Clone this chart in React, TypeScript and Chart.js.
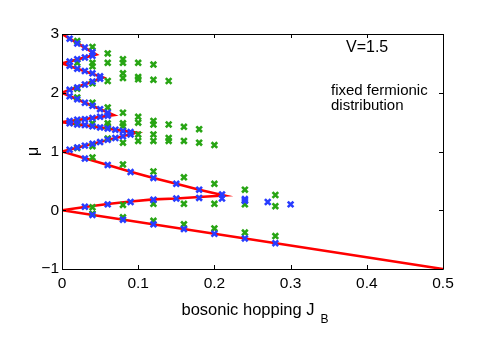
import React, { useEffect, useRef } from "react";
import { Chart, registerables } from "chart.js";

Chart.register(...registerables);

// Phase boundary (red) polyline vertices: J_B and mu
const redX = [0, 0.045, 0, 0.054, 0, 0.068, 0, 0.098, 0, 0.03, 0.06, 0.09, 0.12, 0.15, 0.18, 0.213, 0.18, 0.15, 0.12, 0.09, 0.06, 0.03, 0, 0.5];
const redY = [3, 2.65, 2.5, 2.26, 2, 1.62, 1.5, 1.32, 1, 0.885, 0.77, 0.655, 0.55, 0.45, 0.35, 0.25, 0.225, 0.2, 0.185, 0.15, 0.105, 0.055, 0, -1];

// Blue markers
const blueX = [
  0.01, 0.02, 0.03, 0.04,
  0.01, 0.02, 0.03, 0.04,
  0.01, 0.02, 0.03, 0.04, 0.05,
  0.01, 0.02, 0.03, 0.04, 0.05,
  0.01, 0.02, 0.03, 0.04, 0.05, 0.06,
  0.01, 0.02, 0.03, 0.04, 0.05, 0.06,
  0.01, 0.02, 0.03, 0.04, 0.05, 0.06, 0.07, 0.08, 0.09,
  0.01, 0.02, 0.03, 0.04, 0.05, 0.06, 0.07, 0.08, 0.09,
  0.03, 0.06, 0.09, 0.12, 0.15, 0.18, 0.21,
  0.03, 0.06, 0.09, 0.12, 0.15, 0.18, 0.21,
  0.24, 0.24, 0.27, 0.3,
  0.04, 0.08, 0.12, 0.16, 0.2, 0.24, 0.28,
];
const blueY = [
  2.92, 2.84, 2.77, 2.69,
  2.53, 2.57, 2.6, 2.63,
  2.46, 2.41, 2.37, 2.33, 2.28,
  2.05, 2.09, 2.14, 2.19, 2.24,
  1.94, 1.89, 1.83, 1.78, 1.72, 1.66,
  1.52, 1.54, 1.55, 1.57, 1.59, 1.61,
  1.48, 1.46, 1.45, 1.43, 1.41, 1.39, 1.37, 1.35, 1.33,
  1.03, 1.07, 1.1, 1.13, 1.16, 1.2, 1.23, 1.26, 1.29,
  0.88, 0.77, 0.65, 0.55, 0.45, 0.35, 0.27,
  0.06, 0.1, 0.14, 0.18, 0.2, 0.21, 0.2,
  0.19, 0.16, 0.14, 0.1,
  -0.08, -0.16, -0.24, -0.32, -0.4, -0.48, -0.56,
];

// Green markers
const greenX = [
  0.02, 0.04, 0.06, 0.08, 0.08, 0.1, 0.12,
  0.02, 0.04, 0.04, 0.06,
  0.08, 0.08, 0.1, 0.1, 0.12, 0.14, 0.06, 0.04, 0.02,
  0.02, 0.04, 0.06, 0.08, 0.1,
  0.02, 0.04, 0.06, 0.06, 0.08, 0.08, 0.1, 0.12, 0.12, 0.14, 0.16, 0.18,
  0.1, 0.1, 0.12, 0.12, 0.14, 0.14, 0.16, 0.18, 0.2, 0.08, 0.06, 0.04, 0.02,
  0.04, 0.08, 0.12, 0.16, 0.2, 0.24, 0.28,
  0.04, 0.08, 0.12, 0.16, 0.2, 0.24, 0.28,
  0.04, 0.08, 0.12, 0.16, 0.2, 0.24, 0.28,
];
const greenY = [
  2.88, 2.78, 2.67, 2.57, 2.51, 2.51, 2.48,
  2.51, 2.51, 2.45, 2.51,
  2.33, 2.25, 2.27, 2.23, 2.22, 2.2, 2.2, 2.16, 2.07,
  1.92, 1.83, 1.75, 1.66, 1.59,
  1.49, 1.48, 1.48, 1.43, 1.48, 1.43, 1.49, 1.52, 1.46, 1.46, 1.42, 1.38,
  1.29, 1.18, 1.29, 1.18, 1.23, 1.18, 1.18, 1.15, 1.11, 1.15, 1.22, 1.09, 1.06,
  0.9, 0.78, 0.66, 0.56, 0.45, 0.35, 0.26,
  0.05, 0.09, 0.11, 0.11, 0.11, 0.1, 0.07,
  -0.06, -0.12, -0.18, -0.24, -0.31, -0.38, -0.44,
];

const xTicks = [0, 0.1, 0.2, 0.3, 0.4, 0.5];
const yTicks = [-1, 0, 1, 2, 3];
const xTitle = "bosonic hopping J";
const xTitleSub = "B";
const yTitle = "μ";
const noteV = "V=1.5";
const noteLines = ["fixed fermionic", "distribution"];

const FONT = "'Liberation Sans', Arial, Helvetica, sans-serif";

const zip = (xs: number[], ys: number[]) => xs.map((x, i) => ({ x, y: ys[i] }));

const framePlugin = {
  id: "matlabFrame",
  afterDraw(chart: any) {
    const { ctx, chartArea } = chart;
    const { left, right, top, bottom } = chartArea;
    const xs = chart.scales.x;
    const ys = chart.scales.y;
    ctx.save();
    ctx.strokeStyle = "#000";
    ctx.lineWidth = 1;
    ctx.beginPath();
    ctx.rect(Math.round(left) + 0.5, Math.round(top) + 0.5, Math.round(right - left), Math.round(bottom - top));
    ctx.stroke();
    const tl = 4;
    ctx.beginPath();
    xTicks.forEach((v) => {
      const px = Math.round(xs.getPixelForValue(v)) + 0.5;
      ctx.moveTo(px, bottom);
      ctx.lineTo(px, bottom - tl);
      ctx.moveTo(px, top);
      ctx.lineTo(px, top + tl);
    });
    yTicks.forEach((v) => {
      const py = Math.round(ys.getPixelForValue(v)) + 0.5;
      ctx.moveTo(left, py);
      ctx.lineTo(left + tl, py);
      ctx.moveTo(right, py);
      ctx.lineTo(right - tl, py);
    });
    ctx.stroke();

    ctx.fillStyle = "#000";
    ctx.textBaseline = "alphabetic";
    ctx.textAlign = "left";
    ctx.font = `16.5px ${FONT}`;
    ctx.fillText(xTitle, 181.5, 315);
    const w = ctx.measureText(xTitle).width;
    ctx.font = `12px ${FONT}`;
    ctx.fillText(xTitleSub, 181.5 + w + 6, 323);

    ctx.font = `16px ${FONT}`;
    ctx.save();
    ctx.translate(38, 151.5);
    ctx.rotate(-Math.PI / 2);
    ctx.textAlign = "center";
    ctx.fillText(yTitle, 0, 0);
    ctx.restore();

    ctx.font = `16px ${FONT}`;
    ctx.fillText(noteV, 346, 52);
    ctx.font = `15px ${FONT}`;
    ctx.fillText(noteLines[0], 331, 95);
    ctx.fillText(noteLines[1], 331, 109.5);
    ctx.restore();
  },
};

export default function App() {
  const ref = useRef<HTMLCanvasElement | null>(null);
  useEffect(() => {
    document.body.style.margin = "0";
    const canvas = ref.current!;
    const chart = new Chart(canvas, {
      type: "scatter",
      data: {
        datasets: [
          {
            data: zip(blueX, blueY),
            pointStyle: "crossRot",
            pointRadius: 4,
            pointBorderWidth: 2.6,
            borderColor: "rgb(40,60,255)",
            backgroundColor: "rgb(40,60,255)",
            showLine: false,
          },
          {
            data: zip(greenX, greenY),
            pointStyle: "crossRot",
            pointRadius: 4,
            pointBorderWidth: 2.6,
            borderColor: "rgb(40,165,20)",
            backgroundColor: "rgb(40,165,20)",
            showLine: false,
          },
          {
            data: zip(redX, redY),
            showLine: true,
            pointRadius: 0,
            borderColor: "rgb(255,0,0)",
            borderWidth: 2.6,
            tension: 0,
          },
        ],
      },
      options: {
        animation: false,
        responsive: false,
        devicePixelRatio: 1,
        layout: { padding: { left: 0, right: 48, top: 34, bottom: 0 } },
        plugins: { legend: { display: false }, tooltip: { enabled: false } },
        scales: {
          x: {
            type: "linear",
            min: 0,
            max: 0.5,
            afterBuildTicks: (s: any) => {
              s.ticks = xTicks.map((v) => ({ value: v }));
            },
            ticks: {
              color: "#000",
              font: { family: FONT, size: 15.5 },
              padding: 5,
              maxRotation: 0,
              callback: (v: any) => String(Math.round(Number(v) * 10) / 10),
            },
            grid: { display: false, drawTicks: false },
            border: { display: false },
            afterFit: (s: any) => {
              s.height = 68;
            },
          },
          y: {
            type: "linear",
            min: -1,
            max: 3,
            afterBuildTicks: (s: any) => {
              s.ticks = yTicks.map((v) => ({ value: v }));
            },
            ticks: {
              color: "#000",
              font: { family: FONT, size: 15.5 },
              padding: 3,
              callback: (v: any) => String(v).replace("-", "\u2212"),
            },
            grid: { display: false, drawTicks: false },
            border: { display: false },
            afterFit: (s: any) => {
              s.width = 62;
            },
          },
        },
      },
      plugins: [framePlugin],
    });
    return () => chart.destroy();
  }, []);
  return (
    <div style={{ position: "absolute", left: 0, top: 0, width: 491, height: 337, background: "#fff" }}>
      <canvas ref={ref} width={491} height={337} />
    </div>
  );
}
